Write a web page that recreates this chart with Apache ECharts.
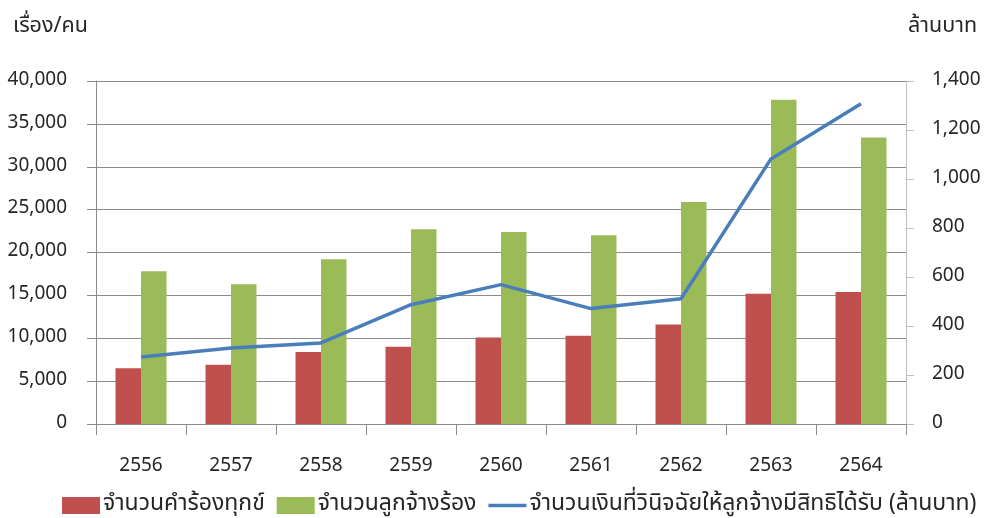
<!DOCTYPE html>
<html>
<head>
<meta charset="utf-8">
<script src="https://cdn.jsdelivr.net/npm/echarts@6/dist/echarts.min.js"></script>
<style>html,body{margin:0;padding:0;background:#fff}#c{width:986px;height:518px}</style>
</head>
<body>
<div id="c"></div>
<script>
const categories = ['2556','2557','2558','2559','2560','2561','2562','2563','2564'];
const complaints = [6500, 6900, 8400, 9000, 10100, 10300, 11600, 15200, 15400];
const employees = [17800, 16300, 19200, 22700, 22400, 22000, 25900, 37800, 33400];
const amountMillion = [273, 310, 331, 487, 569, 471, 511, 1082, 1307];
const seriesNames = ['จำนวนคำร้องทุกข์', 'จำนวนลูกจ้างร้อง', 'จำนวนเงินที่วินิจฉัยให้ลูกจ้างมีสิทธิได้รับ (ล้านบาท)'];
const leftAxisName = 'เรื่อง/คน';
const rightAxisName = 'ล้านบาท';

const FONT = "Tahoma, 'Noto Sans Thai', 'Noto Sans', 'DejaVu Sans', sans-serif";
const txt = {color:'#262626', fontSize:19, fontFamily:FONT};
const thai = {color:'#262626', fontSize:21.5, fontFamily:FONT};
const chart = echarts.init(document.getElementById('c'), null, {renderer:'canvas'});
chart.setOption({
  animation:false,
  textStyle:{fontFamily:FONT},
  grid:{left:96, right:80, top:81, bottom:94, containLabel:false},
  legend:{
    top:489, left:57, itemWidth:38, itemHeight:17, itemGap:12,
    textStyle:{color:'#262626', fontSize:23, fontFamily:FONT, padding:[0,0,0,-2]},
    data:[
      {name:seriesNames[0], icon:'rect'},
      {name:seriesNames[1], icon:'rect'},
      {name:seriesNames[2], icon:'path://M0,0H38V3.5H0Z'}
    ]
  },
  xAxis:{
    type:'category', data:categories,
    axisLine:{lineStyle:{color:'#8c8c8c', width:1}},
    axisTick:{show:true, length:11, lineStyle:{color:'#8c8c8c'}},
    axisLabel:Object.assign({}, txt, {margin:34})
  },
  yAxis:[
    {
      type:'value', min:0, max:40000, interval:5000,
      name:leftAxisName, nameLocation:'end', nameGap:42,
      nameTextStyle:Object.assign({}, thai, {align:'left', padding:[0,0,0,-83]}),
      axisLine:{show:true, lineStyle:{color:'#8c8c8c'}},
      axisTick:{show:true, length:9, lineStyle:{color:'#8c8c8c'}},
      splitLine:{lineStyle:{color:'#8c8c8c', width:1}},
      axisLabel:Object.assign({}, txt, {margin:29, formatter:v=>v.toLocaleString('en-US')})
    },
    {
      type:'value', min:0, max:1400, interval:200,
      name:rightAxisName, nameLocation:'end', nameGap:42,
      nameTextStyle:Object.assign({}, thai, {align:'left', padding:[0,0,0,2]}),
      position:'right',
      axisLine:{show:true, lineStyle:{color:'#bfbfbf'}},
      axisTick:{show:true, length:8, lineStyle:{color:'#bfbfbf'}},
      splitLine:{show:false},
      axisLabel:Object.assign({}, txt, {margin:26, formatter:v=>v.toLocaleString('en-US')})
    }
  ],
  series:[
    {name:seriesNames[0], type:'bar', data:complaints, barWidth:25.5, barGap:'0%', itemStyle:{color:'#c0504d'}},
    {name:seriesNames[1], type:'bar', data:employees, barWidth:25.5, barGap:'0%', itemStyle:{color:'#9bbb59'}},
    {name:seriesNames[2], type:'line', yAxisIndex:1, data:amountMillion, symbol:'none', lineStyle:{color:'#4a7ebb', width:3.5}, itemStyle:{color:'#4a7ebb'}}
  ]
});
</script>
</body>
</html>
